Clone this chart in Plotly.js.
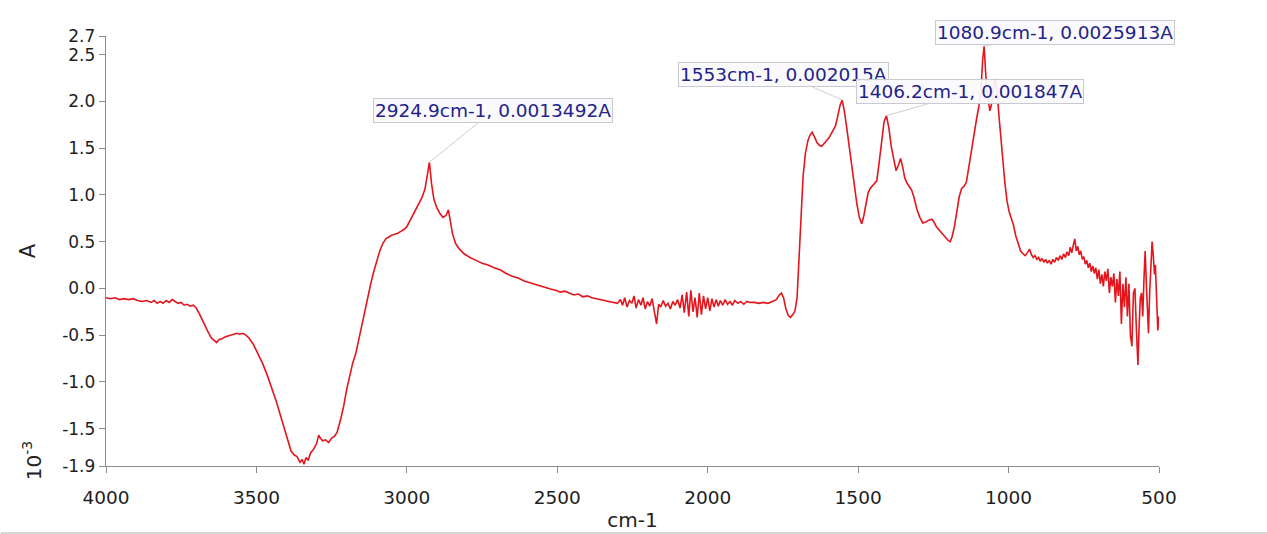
<!DOCTYPE html>
<html>
<head>
<meta charset="utf-8">
<script src="https://cdn.plot.ly/plotly-3.0.1.min.js"></script>
<style>
html,body{margin:0;padding:0;background:#fff;}
#chart{width:1267px;height:534px;}
</style>
</head>
<body>
<div id="chart"></div>
<script>
// Wavenumber (cm-1) and absorbance (x10^-3 A)
const wavenumber = [
4000,3985,3970,3955,3940,3925,3910,3895,3880,3865,3850,3840,3830,3820,3810,3800,3790,3780,3770,3760,
3750,3740,3730,3720,3710,3700,3690,3680,3670,3660,3650,3640,3632,3625,3615,3605,3595,3585,3575,3565,
3555,3545,3535,3525,3510,3495,3480,3465,3450,3435,3420,3405,3395,3385,3375,3365,3355,3348,3342,3335,
3328,3320,3310,3300,3293,3288,3280,3270,3260,3250,3240,3232,3220,3210,3200,3190,3180,3170,3160,3150,
3140,3130,3120,3110,3100,3090,3080,3070,3060,3050,3040,3030,3020,3010,3000,2990,2980,2970,2960,2950,
2940,2932,2925,2918,2910,2900,2890,2880,2870,2862,2856,2848,2838,2825,2810,2790,2770,2750,2730,2710,
2690,2670,2650,2630,2610,2590,2570,2550,2535,2520,2505,2490,2475,2460,2445,2430,2415,2400,2385,2370,
2355,2340,2325,2310,2300,2290,2283,2276,2268,2260,2252,2245,2238,2230,2222,2215,2208,2200,2193,2185,
2178,2170,2163,2156,2148,2140,2132,2124,2116,2108,2100,2092,2085,2078,2070,2063,2056,2049,2042,2035,
2028,2021,2014,2007,2000,1993,1986,1979,1972,1965,1958,1950,1942,1934,1926,1918,1910,1900,1890,1880,
1870,1860,1845,1830,1815,1800,1785,1772,1762,1755,1748,1740,1732,1725,1717,1710,1703,1697,1690,1683,
1675,1667,1660,1653,1645,1637,1629,1621,1613,1605,1597,1590,1582,1575,1568,1560,1553,1546,1538,1530,
1521,1512,1504,1496,1488,1481,1474,1467,1460,1452,1444,1438,1430,1422,1414,1406,1398,1390,1382,1374,
1366,1359,1352,1345,1338,1330,1322,1315,1305,1295,1285,1275,1265,1255,1248,1240,1230,1220,1210,1200,
1194,1188,1180,1172,1164,1156,1148,1140,1132,1122,1114,1106,1098,1092,1086,1081,1077,1073,1068,1062,
1056,1050,1044,1038,1032,1026,1019,1012,1005,998,990,984,976,968,960,952,945,938,930,924,
918,912,906,900,895,889,883,877,871,865,859,853,847,841,835,829,823,817,811,806,
800,795,790,785,780,775,770,765,760,755,750,745,740,735,730,725,720,715,710,705,
700,695,690,685,680,675,670,665,660,655,650,645,640,635,630,625,620,615,610,605,
600,595,590,585,580,575,570,566,562,558,554,550,546,542,538,535,531,527,523,519,
515,512,508,504,500
];
const absorbance = [
-0.10,-0.11,-0.10,-0.12,-0.11,-0.12,-0.11,-0.13,-0.14,-0.13,-0.15,-0.13,-0.16,-0.14,-0.16,-0.13,-0.15,-0.12,-0.14,-0.16,
-0.15,-0.18,-0.17,-0.19,-0.18,-0.21,-0.27,-0.34,-0.40,-0.47,-0.53,-0.56,-0.58,-0.55,-0.54,-0.52,-0.51,-0.50,-0.49,-0.48,
-0.49,-0.48,-0.50,-0.53,-0.60,-0.70,-0.80,-0.92,-1.05,-1.20,-1.36,-1.52,-1.65,-1.74,-1.78,-1.80,-1.86,-1.83,-1.88,-1.81,
-1.84,-1.76,-1.72,-1.66,-1.57,-1.60,-1.63,-1.62,-1.65,-1.60,-1.58,-1.54,-1.40,-1.26,-1.08,-0.92,-0.80,-0.70,-0.55,-0.40,
-0.24,-0.08,0.05,0.18,0.30,0.40,0.48,0.53,0.55,0.57,0.58,0.59,0.61,0.63,0.66,0.72,0.78,0.84,0.90,0.97,
1.06,1.22,1.3492,1.12,0.95,0.86,0.80,0.76,0.78,0.84,0.74,0.58,0.48,0.42,0.37,0.33,0.30,0.27,0.25,0.22,
0.20,0.16,0.13,0.11,0.08,0.06,0.04,0.02,0.00,-0.01,-0.02,-0.04,-0.03,-0.05,-0.07,-0.06,-0.09,-0.08,-0.10,-0.11,
-0.12,-0.13,-0.14,-0.15,-0.16,-0.12,-0.18,-0.10,-0.20,-0.13,-0.16,-0.08,-0.21,-0.12,-0.18,-0.10,-0.22,-0.14,-0.19,-0.11,
-0.24,-0.38,-0.17,-0.20,-0.13,-0.19,-0.16,-0.22,-0.14,-0.18,-0.12,-0.21,-0.07,-0.26,-0.04,-0.30,-0.02,-0.25,-0.10,-0.31,
-0.05,-0.28,-0.08,-0.22,-0.10,-0.24,-0.11,-0.20,-0.12,-0.19,-0.13,-0.18,-0.12,-0.17,-0.14,-0.18,-0.13,-0.16,-0.14,-0.17,
-0.14,-0.15,-0.15,-0.16,-0.15,-0.16,-0.14,-0.12,-0.07,-0.05,-0.10,-0.22,-0.29,-0.31,-0.28,-0.24,-0.10,0.30,0.80,1.20,
1.45,1.58,1.64,1.67,1.62,1.56,1.53,1.52,1.55,1.58,1.61,1.65,1.69,1.74,1.84,1.96,2.015,1.90,1.72,1.52,
1.31,1.10,0.90,0.76,0.69,0.78,0.92,1.02,1.07,1.10,1.12,1.15,1.35,1.60,1.78,1.847,1.72,1.52,1.38,1.26,
1.32,1.39,1.30,1.18,1.13,1.09,1.05,0.98,0.85,0.76,0.70,0.71,0.73,0.74,0.71,0.66,0.62,0.58,0.54,0.51,
0.50,0.55,0.66,0.80,0.98,1.07,1.09,1.14,1.30,1.52,1.70,1.82,1.96,2.10,2.45,2.5913,2.35,2.14,2.02,1.90,
1.98,2.15,2.24,2.10,1.85,1.62,1.35,1.12,0.93,0.82,0.74,0.68,0.56,0.47,0.40,0.37,0.35,0.38,0.42,0.36,
0.33,0.35,0.31,0.33,0.29,0.32,0.28,0.31,0.27,0.30,0.26,0.31,0.28,0.33,0.30,0.35,0.31,0.37,0.33,0.39,
0.35,0.44,0.38,0.46,0.53,0.40,0.45,0.36,0.40,0.31,0.34,0.26,0.30,0.22,0.27,0.18,0.24,0.16,0.22,0.10,
0.20,0.05,0.15,0.02,0.18,0.08,0.21,-0.05,0.12,0.02,0.16,-0.15,0.10,-0.08,0.18,-0.38,0.05,-0.20,0.12,-0.30,
0.05,-0.50,-0.62,-0.05,0.00,-0.45,-0.82,-0.40,-0.10,-0.05,-0.30,0.10,0.40,0.05,-0.30,-0.48,-0.05,0.30,0.50,0.35,
0.15,0.25,-0.20,-0.45,-0.30
];

// Labelled peaks
const peakWavenumber = [2924.9, 1553, 1406.2, 1080.9];
const peakAbsorbance = [0.0013492, 0.002015, 0.001847, 0.0025913];
const peakLabelOffsetX = [64, -59, 84, 71];
const peakLabelOffsetY = [-52, -26, -24, -14];

// Axis ticks
const xTicks = [4000, 3500, 3000, 2500, 2000, 1500, 1000, 500];
const yTicks = [-1.9, -1.5, -1.0, -0.5, 0.0, 0.5, 1.0, 1.5, 2.0, 2.5, 2.7];
const yTickText = ['-1.9','-1.5','-1.0','-0.5','0.0','0.5','1.0','1.5','2.0','2.5','2.7'];

const FONT = 'DejaVu Sans, Arial, sans-serif';

const trace = {
  x: wavenumber,
  y: absorbance,
  type: 'scatter',
  mode: 'lines',
  line: {color: '#e3151d', width: 1.6},
  hoverinfo: 'x+y'
};

const annotations = peakWavenumber.map((w, i) => ({
  x: w,
  y: peakAbsorbance[i] * 1000,
  xref: 'x', yref: 'y',
  text: w + 'cm-1, ' + peakAbsorbance[i] + 'A',
  showarrow: true,
  arrowhead: 0,
  arrowwidth: 1,
  arrowcolor: '#cfcfcf',
  ax: peakLabelOffsetX[i],
  ay: peakLabelOffsetY[i],
  bgcolor: 'rgba(250,250,252,0.92)',
  bordercolor: '#c9c9d2',
  borderwidth: 1,
  borderpad: 1,
  font: {family: FONT, size: 18.5, color: '#22228a'}
}));

annotations.push({
  xref: 'paper', yref: 'paper',
  x: -0.07, y: 0.012,
  text: '10<sup>-3</sup>',
  textangle: -90,
  showarrow: false,
  xanchor: 'center', yanchor: 'middle',
  font: {family: FONT, size: 20, color: '#222'}
});

const layout = {
  width: 1267,
  height: 534,
  margin: {l: 106, r: 108, t: 36, b: 68},
  paper_bgcolor: '#ffffff',
  plot_bgcolor: '#ffffff',
  showlegend: false,
  xaxis: {
    range: [4000, 500],
    tickvals: xTicks,
    ticktext: xTicks.map(String),
    ticks: 'outside',
    ticklen: 6,
    tickcolor: '#8c8c8c',
    ticklabelstandoff: 8,
    showline: true,
    linecolor: '#8c8c8c',
    linewidth: 1.3,
    showgrid: false,
    zeroline: false,
    tickfont: {family: FONT, size: 18.5, color: '#1e1e1e'},
    title: {text: 'cm-1', font: {family: FONT, size: 20, color: '#1e1e1e'}, standoff: 6}
  },
  yaxis: {
    range: [-1.9, 2.7],
    tickvals: yTicks,
    ticktext: yTickText,
    ticks: 'outside',
    ticklen: 6,
    tickcolor: '#8c8c8c',
    showline: true,
    linecolor: '#8c8c8c',
    linewidth: 1.3,
    showgrid: false,
    zeroline: false,
    tickfont: {family: FONT, size: 17, color: '#1e1e1e'},
    title: {text: 'A', font: {family: FONT, size: 21, color: '#1e1e1e'}, standoff: 20}
  },
  annotations: annotations,
  shapes: [
    {type: 'line', xref: 'paper', yref: 'paper', x0: -0.1, x1: 1.103, y0: -0.156, y1: -0.156,
     line: {color: '#d6d6d6', width: 2}}
  ]
};

Plotly.newPlot('chart', [trace], layout, {displayModeBar: false, staticPlot: true});
</script>
</body>
</html>
